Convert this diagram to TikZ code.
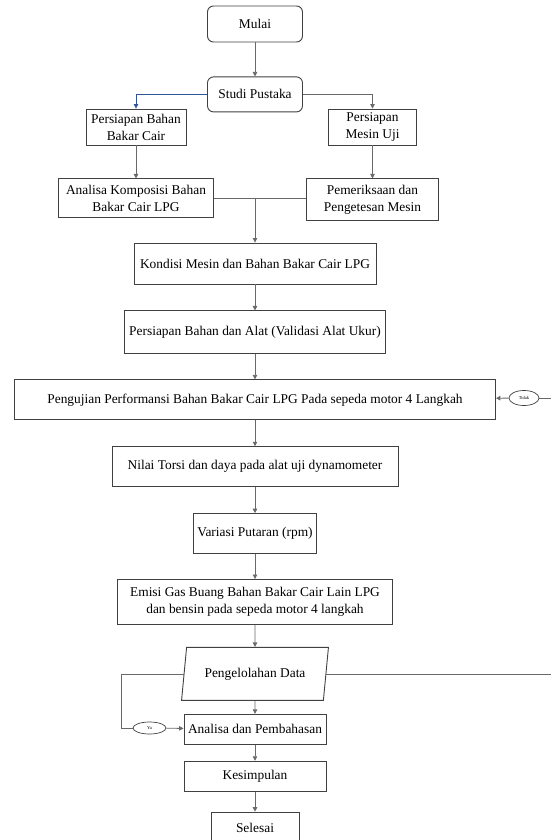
\documentclass[tikz,border=0pt]{standalone}
\usepackage{fontspec}
\setmainfont{Liberation Serif}
\usetikzlibrary{positioning,arrows.meta,shapes.geometric}
\definecolor{garis}{RGB}{105,105,105}
\definecolor{tepi}{RGB}{65,65,65}
\definecolor{biru}{RGB}{47,85,151}

\begin{document}
\begin{tikzpicture}[
  x=1pt, y=-1pt,
  node distance=26pt,
  box/.style={draw=tepi, rectangle, align=center, font=\fontsize{13.4}{17}\selectfont, inner sep=2pt, line width=0.9pt},
  ujung/.style={box, rounded corners=6pt},
  data/.style={draw=tepi, trapezium, trapezium left angle=75, trapezium right angle=105, trapezium stretches=true, font=\fontsize{13.4}{17}\selectfont, inner sep=1pt, line width=0.9pt},
  pilih/.style={draw=tepi, ellipse, font=\fontsize{4.5}{5}\selectfont, inner sep=0pt, line width=0.7pt},
  alur/.style={->, draw=garis, line width=0.8pt},
  >={Triangle[length=4.5pt,width=4.5pt]}
]
\useasboundingbox (0,0) rectangle (551,840);
\node[ujung, minimum width=95pt, minimum height=36pt] (mulai) at (255,24) {Mulai};
\node[ujung, minimum width=95pt, minimum height=35pt, below=34pt of mulai] (studi) {Studi Pustaka};
\node[box, minimum width=100pt, minimum height=36pt] (bahan) at (136,127) {Persiapan Bahan\\Bakar Cair};
\node[box, minimum width=88pt, minimum height=36pt] (mesin) at (372.5,127) {Persiapan\\Mesin Uji};
\node[box, minimum width=155pt, minimum height=39pt, below=33pt of bahan] (komposisi) {Analisa Komposisi Bahan\\Bakar Cair LPG};
\node[box, minimum width=132pt, minimum height=42pt, below=33pt of mesin] (periksa) {Pemeriksaan dan\\Pengetesan Mesin};
\node[box, minimum width=242pt, minimum height=41pt] (kondisi) at (255,263.5) {Kondisi Mesin dan Bahan Bakar Cair LPG};
\node[box, minimum width=261pt, minimum height=43pt, below=of kondisi] (alat) {Persiapan Bahan dan Alat (Validasi Alat Ukur)};
\node[box, minimum width=481pt, minimum height=40pt, below=25pt of alat] (uji) {Pengujian Performansi Bahan Bakar Cair LPG Pada sepeda motor 4 Langkah};
\node[box, minimum width=286pt, minimum height=40pt, below=26pt of uji] (torsi) {Nilai Torsi dan daya pada alat uji dynamometer};
\node[box, minimum width=123pt, minimum height=40pt, below=26pt of torsi] (variasi) {Variasi Putaran (rpm)};
\node[box, minimum width=275pt, minimum height=45pt, below=25pt of variasi] (emisi) {Emisi Gas Buang Bahan Bakar Cair Lain LPG\\dan bensin pada sepeda motor 4 langkah};
\node[data, minimum width=147pt, minimum height=53pt, below=22pt of emisi] (olah) {Pengelolahan Data};
\node[box, minimum width=142pt, minimum height=30pt, below=13pt of olah] (analisa) {Analisa dan Pembahasan};
\node[box, minimum width=142pt, minimum height=30pt, below=16pt of analisa] (simpul) {Kesimpulan};
\node[box, minimum width=88pt, minimum height=32pt, below=20pt of simpul] (selesai) {Selesai};
\node[pilih, minimum width=30pt, minimum height=15pt] (tidak) at (524,398) {Tidak};
\node[pilih, minimum width=33pt, minimum height=12pt] (ya) at (149.5,728) {Ya};
\coordinate (batas) at (551,0);
\coordinate (kiri) at (121,0);
\draw[alur] (mulai) -- (studi);
\draw[alur, draw=biru] (studi) -| (bahan);
\draw[alur] (studi) -| (mesin);
\draw[alur] (bahan) -- (komposisi);
\draw[alur] (mesin) -- (periksa);
\draw[alur, -] (komposisi.east) -- (komposisi.east -| periksa.west);
\draw[alur] (komposisi.east -| kondisi.north) -- (kondisi);
\draw[alur] (kondisi) -- (alat);
\draw[alur] (alat) -- (uji);
\draw[alur] (uji) -- (torsi);
\draw[alur] (torsi) -- (variasi);
\draw[alur] (variasi) -- (emisi);
\draw[alur] (emisi) -- (olah);
\draw[alur] (olah) -- (analisa);
\draw[alur] (analisa) -- (simpul);
\draw[alur] (simpul) -- (selesai);
\draw[alur, -] (olah.east) -- (olah.east -| batas);
\draw[alur, -] (tidak -| batas) -- (tidak);
\draw[alur] (tidak) -- (uji);
\draw[alur, -] (olah.west) -| (kiri |- ya) -- (ya);
\draw[alur] (ya) -- (analisa);
\end{tikzpicture}
\end{document}
